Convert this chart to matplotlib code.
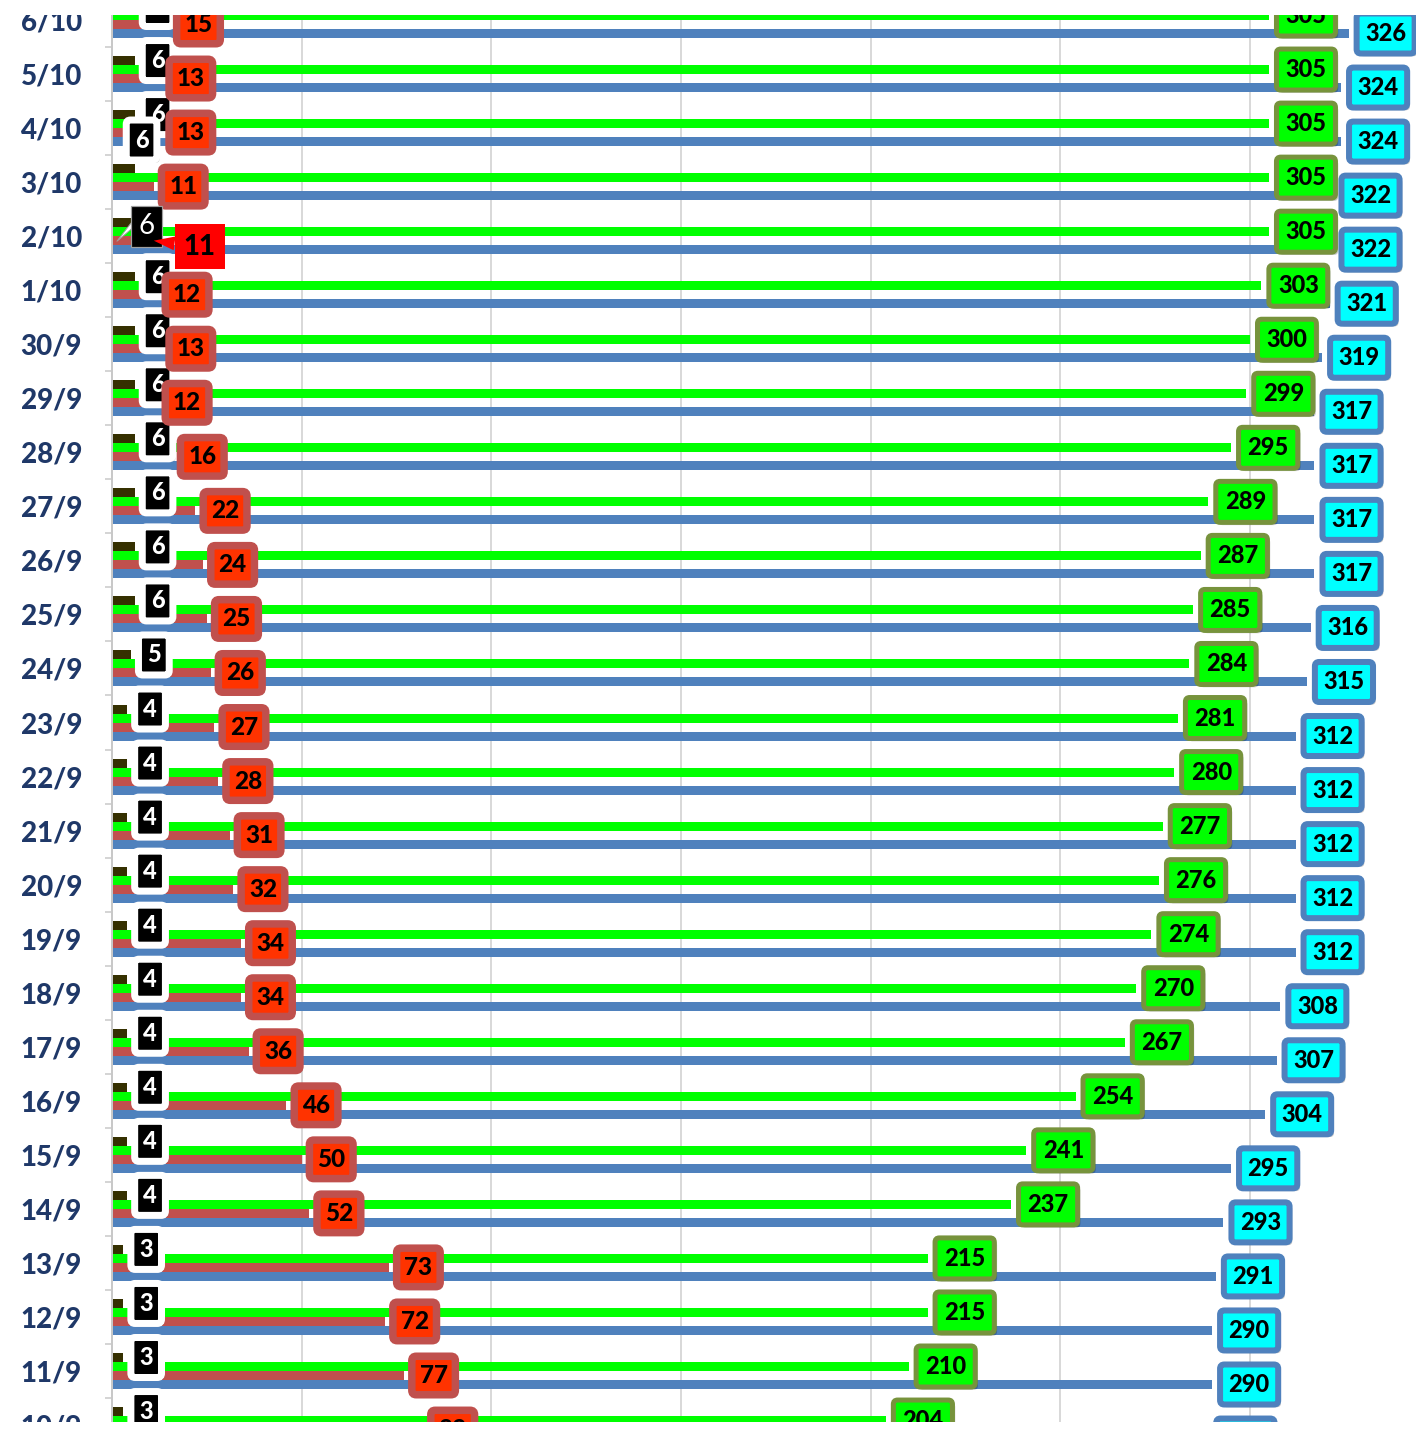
import matplotlib
matplotlib.use("Agg")
import matplotlib.pyplot as plt
import matplotlib.patheffects as pe
from matplotlib.patches import Rectangle
import numpy as np

# ---------------- data ----------------
dates = ['6/10', '5/10', '4/10', '3/10', '2/10', '1/10', '30/9', '29/9', '28/9',
         '27/9', '26/9', '25/9', '24/9', '23/9', '22/9', '21/9', '20/9', '19/9',
         '18/9', '17/9', '16/9', '15/9', '14/9', '13/9', '12/9', '11/9', '10/9']
dark = [6, 6, 6, 6, 6, 6, 6, 6, 6, 6, 6, 6, 5, 4, 4, 4, 4, 4, 4, 4, 4, 4, 4, 3, 3, 3, 3]
red = [15, 13, 13, 11, 11, 12, 13, 12, 16, 22, 24, 25, 26, 27, 28, 31, 32, 34, 34, 36,
       46, 50, 52, 73, 72, 77, 82]
green = [305, 305, 305, 305, 305, 303, 300, 299, 295, 289, 287, 285, 284, 281, 280,
         277, 276, 274, 270, 267, 254, 241, 237, 215, 215, 210, 204]
blue = [326, 324, 324, 322, 322, 321, 319, 317, 317, 317, 317, 316, 315, 312, 312,
        312, 312, 312, 308, 307, 304, 295, 293, 291, 290, 290, 289]

# ---------------- layout ----------------
W, H, DPI = 1416, 1438, 100
PT = 72.0 / DPI  # points per pixel
FONT = ['Lato', 'DejaVu Sans']
WEIGHT = 'black'
plt.rcParams['font.family'] = FONT

fig = plt.figure(figsize=(W / DPI, H / DPI), dpi=DPI)
ax_left = 112
vis_top, vis_bot = 15, 1422          # visible band of the (cropped) chart
ax = fig.add_axes([ax_left / W, 0.0, (W - ax_left) / W, 1.0])

row_px = 54.04
px_per_unit = (1250 - 112) / 300.0
xmax = (W - ax_left) / px_per_unit
first_center = 20.0
ytop = (0 - first_center) / row_px
ybot = (H - first_center) / row_px

y = np.arange(len(dates))
bh = 9.0 / row_px
series = [
    ('dark', dark, '#353000', -1.5 * bh),
    ('green', green, '#00FF00', -0.5 * bh),
    ('red', red, '#C0504D', 0.5 * bh),
    ('blue', blue, '#4F81BD', 1.5 * bh),
]
for name, vals, col, off in series:
    ax.barh(y + off, vals, height=bh, color=col, edgecolor='none', zorder=2)

# grid & axes
ax.set_xticks(np.arange(50, 301, 50))
ax.tick_params(axis='x', length=0, labelbottom=False)
ax.grid(axis='x', color='#D9D9D9', linewidth=2 * PT, zorder=0)
ax.set_axisbelow(True)
for s in ['top', 'right', 'bottom']:
    ax.spines[s].set_visible(False)
ax.spines['left'].set_color('#C8C8C8')
ax.spines['left'].set_linewidth(2 * PT)

ax.set_yticks(y)
ax.set_yticklabels(dates)
ax.set_yticks(np.arange(-0.5, len(dates) + 0.5, 1.0), minor=True)
ax.tick_params(axis='y', which='major', length=0, pad=30 * PT)
ax.tick_params(axis='y', which='minor', length=7 * PT, width=1.5 * PT, color='#C8C8C8')
for lab in ax.get_yticklabels():
    lab.set_fontsize(20)
    lab.set_fontweight(WEIGHT)
    lab.set_color('#1F3868')
    lab.set_fontfamily(FONT)

ax.set_xlim(0, xmax)
ax.set_ylim(ybot, ytop)

# ---------------- labels ----------------
styles = {
    'green': dict(fc='#00FF00', ec='#77933C', lw=5, pad=9, gap=5, fs=17, tc='black'),
    'blue': dict(fc='#00FFFF', ec='#4F81BD', lw=6, pad=8.5, gap=5, fs=17, tc='black'),
    'red': dict(fc='#FF3300', ec='#C0504D', lw=7.5, pad=7.75, gap=4, fs=17.5, tc='black'),
    'dark': dict(fc='black', ec='white', lw=7, pad=8.5, gap=4, fs=17, tc='white'),
}
shadow = [pe.SimplePatchShadow(offset=(2, -2), shadow_rgbFace='black', alpha=0.22), pe.Normal()]

# manually moved labels: (series, date) -> pixel shift of the text (dx, dy)
moved = {('dark', '3/10'): (-16.0, 28.6)}

for name, vals, col, off in series:
    st = styles[name]
    for i, v in enumerate(vals):
        d = dates[i]
        yy = y[i] + off
        if d == '2/10' and name in ('dark', 'red'):
            continue
        dx = st['gap'] + st['pad'] + st['lw'] / 2.0
        dy = 0.0
        if (name, d) in moved:
            mdx, mdy = moved[(name, d)]
            dx += mdx
            dy += mdy
        t = ax.annotate(str(v), xy=(v, yy), xytext=(dx, dy), textcoords='offset pixels',
                        ha='left', va='center', fontsize=st['fs'], fontweight=WEIGHT,
                        color=st['tc'], family=FONT, annotation_clip=False, zorder=5,
                        bbox=dict(boxstyle='round,pad=%.3f,rounding_size=0.18' % (st['pad'] / (st['fs'] / PT)),
                                  fc=st['fc'], ec=st['ec'], lw=st['lw'] * PT))
        t.get_bbox_patch().set_path_effects(shadow)

# the two callout-style labels on 2/10
i2 = dates.index('2/10')
yd = y[i2] - 1.5 * bh
yr = y[i2] + 0.5 * bh
ax.annotate('', xy=(0.8, y[i2] + 0.13), xytext=(dark[i2], yd), textcoords='data',
            xycoords='data', annotation_clip=False, zorder=4,
            arrowprops=dict(arrowstyle='wedge,tail_width=0.35', fc='white', ec='#A0A0A0', lw=1 * PT))
t = ax.annotate(str(dark[i2]), xy=(dark[i2], yd), xytext=(12, -3.4), textcoords='offset pixels',
                ha='center', va='center', fontsize=20, fontweight='normal', color='white',
                family=FONT, annotation_clip=False, zorder=6,
                bbox=dict(boxstyle='square,pad=0.27', fc='black', ec='#A0A0A0', lw=1.2 * PT))
t = ax.annotate(str(red[i2]), xy=(red[i2], yr), xytext=(46, -6), textcoords='offset pixels',
                ha='center', va='center', fontsize=20, fontweight=WEIGHT, color='black',
                family=FONT, annotation_clip=False, zorder=6,
                bbox=dict(boxstyle='square,pad=0.33', fc='#FF0000', ec='none'),
                arrowprops=dict(arrowstyle='wedge,tail_width=0.5', fc='#FF0000', ec='none',
                                shrinkA=0, shrinkB=0))

# crop edges like the reference picture
fig.add_artist(Rectangle((0, 0), 1, (H - vis_bot) / H, transform=fig.transFigure,
                         fc='white', ec='none', zorder=100))
fig.add_artist(Rectangle((0, (H - vis_top) / H), 1, vis_top / H, transform=fig.transFigure,
                         fc='white', ec='none', zorder=100))

fig.savefig('out.png', dpi=DPI, facecolor='white')
